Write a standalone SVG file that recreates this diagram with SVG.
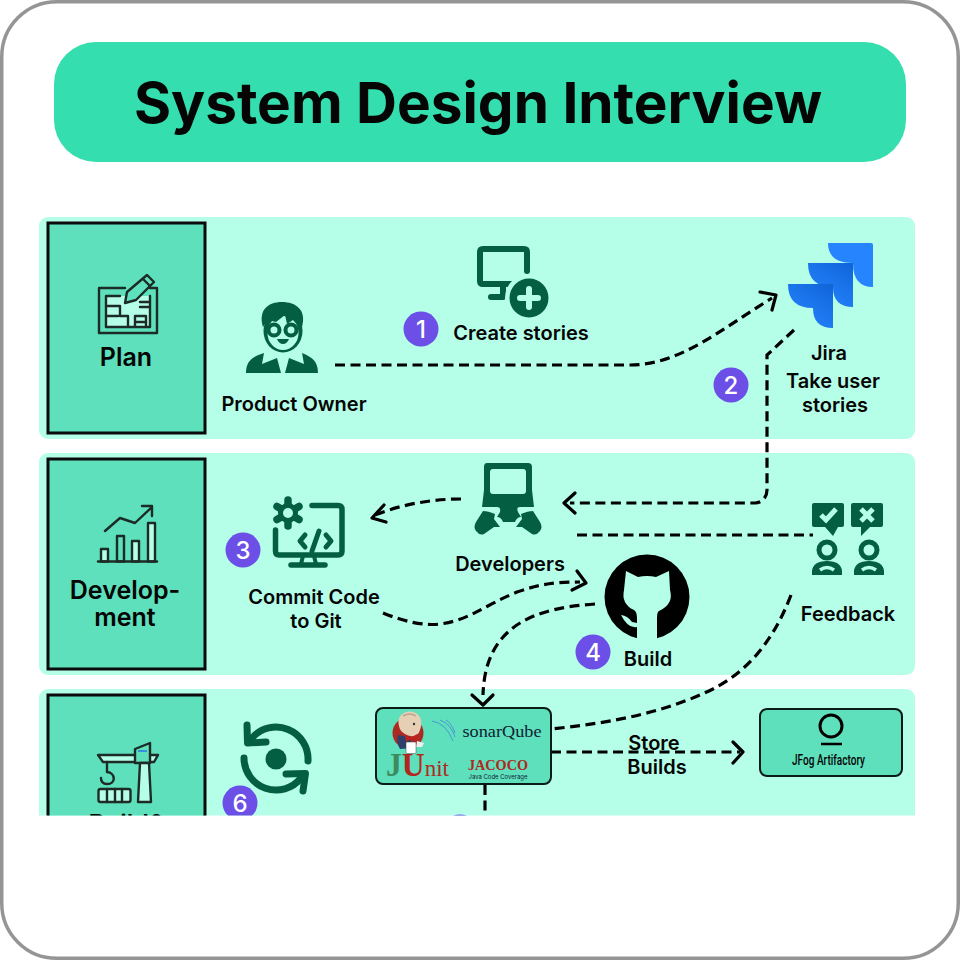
<svg xmlns="http://www.w3.org/2000/svg" width="960" height="960" viewBox="0 0 960 960">
<defs>
<style>
text{font-family:"Inter","Liberation Sans",sans-serif;font-weight:600;fill:#050505;text-anchor:middle}
.lbl{font-size:20px}
.phase{font-size:25px}
.band{fill:#b5fee8}
.side{fill:#5de0bb;stroke:#0a0a0a;stroke-width:3}
.box{fill:#5de0bb;stroke:#0a1a14;stroke-width:2}
.g{fill:#045f42}
.gl{fill:none;stroke:#045f42;stroke-linecap:round;stroke-linejoin:round}
.k{fill:none;stroke:#1c2b26;stroke-width:2.4;stroke-linejoin:round;stroke-linecap:round}
.kl{fill:#b5fee8;stroke:#1c2b26;stroke-width:2.4;stroke-linejoin:round}
.kd{fill:#5de0bb;stroke:#1c2b26;stroke-width:2.4;stroke-linejoin:round}
.lt{fill:#b5fee8}
.badge{fill:#6c4fe6}
.num{fill:#fff;font-size:24px;font-weight:500}
.con{fill:none;stroke:#000;stroke-width:3.2;stroke-dasharray:10 5.5}
.head{fill:none;stroke:#000;stroke-width:3.2;stroke-linecap:round;stroke-linejoin:round}
.serif{font-family:"Liberation Serif",serif}
</style>
<linearGradient id="jb" x1="1" y1="0" x2="0.3" y2="1"><stop offset="0" stop-color="#0f65d8"/><stop offset="1" stop-color="#2684ff"/></linearGradient>
<clipPath id="page"><rect x="0" y="0" width="960" height="815.500"/></clipPath>
</defs>
<rect x="0" y="0" width="960" height="960" fill="#fff"/>

<g clip-path="url(#page)">
<rect x="39" y="217" width="876" height="222" rx="9" class="band"/>
<rect x="39" y="453" width="876" height="222" rx="9" class="band"/>
<rect x="39" y="689" width="876" height="180" rx="9" class="band"/>

<g id="plan"><rect x="48" y="223" width="157" height="210" class="side"/>
<path d="M125 288H99V333H157V288H150" class="k"/>
<path class="lt" d="M128 296H150V327H106V296Z"/>
<path d="M120 296H106V327H150V296M106 306H120V316H128V327M106 316H118M135 327V316H146V327M135 322H146M140 302H150M140 307H150" class="k" stroke-width="2"/>
<path d="M125 303L127 292L147 275L154 282L136 300Z" class="kd"/><path d="M143 279L150 286" class="k" stroke-width="1.800"/>
<text x="126" y="366" class="phase">Plan</text></g>

<g id="development"><rect x="48" y="459" width="157" height="210" class="side"/>
<path d="M105 531L120 518L135 523L152 507M142 506H152V516" class="k"/>
<rect x="101" y="549" width="7" height="12.500" class="kl"/><rect x="117" y="536" width="7" height="25.500" class="kd"/><rect x="132" y="541" width="7" height="20.500" class="kl"/><rect x="148" y="523" width="7" height="38.500" class="kl"/>
<path d="M98 561.500H157" class="k"/>
<text class="phase"><tspan x="125" y="599">Develop-</tspan><tspan x="125" y="626">ment</tspan></text></g>

<g id="build"><rect x="48" y="695" width="157" height="210" class="side"/>
<path d="M98 755H158L154 762H103Z" class="kl"/>
<path d="M107 762V772M107 772C116 773 116 784 107 784C103 784 101 782 101 778" class="k"/>
<path d="M135 749L150 743V763H135Z" class="kd"/><path d="M138 750H147V752H138Z" fill="#3b8fe0"/>
<path d="M140 763H149L151 802H138Z" class="kl"/>
<rect x="98.500" y="789" width="32" height="13" rx="2" class="kl"/><path d="M107 789V802M115 789V802M122 789V802" class="k" stroke-width="2"/>
<text x="127" y="833" class="phase">Build&amp;</text></g>

<g id="connectors">
<path class="con" d="M335 365H630C680 365 720 330 772 298"/><path class="head" d="M760 292L776 295L772 310"/>
<path class="con" d="M794 330L767 355V490C767 497 762 503 755 503H570"/><path class="head" d="M575 493L564 503L575 513"/>
<path class="con" d="M461 499C430 499 400 505 375 515"/><path class="head" d="M384 505L372 518L386 522"/>
<path class="con" d="M577 535H813"/>
<path class="con" d="M383 613C405 622 425 626 440 624C470 620 485 605 517 592C540 584 555 582 580 582"/><path class="head" d="M577 571L586 583L572 590"/>
<path class="con" d="M595 604C535 608 485 625 483 695"/><path class="head" d="M472 695L483 705L493 695"/>
<path class="con" d="M791 595C770 650 740 675 713 689C660 715 600 724 551 729"/>
<path class="con" d="M551 752H740"/><path class="head" d="M733 742L743 752L733 763"/>
<path class="con" d="M485 785V880"/>
</g>

<g id="product-owner">
<ellipse cx="283" cy="331" rx="19.500" ry="21.500" class="g"/><ellipse cx="283" cy="333" rx="15.500" ry="17" class="lt"/>
<path class="g" d="M263 327C258 310 268 302 282 302C296 302 307 310 302 327L298 321L293 320L287 324L285 315L276 322L268 320Z"/>
<circle cx="274" cy="330" r="5.500" class="lt" stroke="#045f42" stroke-width="4"/><circle cx="291" cy="330" r="5.500" class="lt" stroke="#045f42" stroke-width="4"/>
<path class="g" d="M277 339H289Q287 344 283 344Q279 344 277 339Z"/>
<path class="g" d="M246 373C246 361 252 357 264 353L262 364L277 358L281 373ZM285 373L289 358L304 364L302 353C312 357 318 361 318 373Z"/>
<text x="294" y="411" class="lbl">Product Owner</text></g>

<g id="create-stories">
<path class="gl" d="M527 271V252Q527 249 524 249H483Q480 249 480 252V281Q480 284 483 284H512" stroke-width="6"/>
<path class="gl" d="M491 297H503V286" stroke-width="6"/>
<circle cx="529" cy="298" r="24" class="lt"/>
<circle cx="529" cy="298" r="19.500" class="g"/><path d="M529 289V307M520 298H538" stroke="#b5fee8" stroke-width="6" stroke-linecap="round"/>
<text x="521" y="340" class="lbl">Create stories</text></g>

<g id="jira">
<path fill="#2684ff" d="M828 243H871Q873 243 873 245V287Q853 287 853 263Q828 263 828 243Z"/>
<path fill="url(#jb)" d="M808 263H853V307Q833 307 833 287Q808 287 808 263Z"/>
<path fill="url(#jb)" d="M788 284H833V328Q813 328 813 308Q788 308 788 284Z"/>
<text x="829" y="360" class="lbl">Jira</text><text x="833" y="388" class="lbl">Take user</text><text x="835" y="412" class="lbl">stories</text></g>

<g id="commit-code">
<circle cx="288" cy="513" r="10" class="g"/>
<path class="gl" d="M288 513V500M288 513V526M288 513L277 506.500M288 513L299 506.500M288 513L277 519.500M288 513L299 519.500" stroke-width="7.500"/>
<circle cx="288" cy="513" r="5" class="lt"/>
<path class="gl" d="M312 505.500H338Q342 505.500 342 509.500V551Q342 555 338 555H279Q275.500 555 275.500 551V530" stroke-width="5.500"/>
<path class="gl" d="M305 535L300 541L305 547M326 535L331 541L326 547M319 531L312 551" stroke-width="5"/>
<path class="gl" d="M291 565H325" stroke-width="5.500"/><path class="gl" d="M303 556L301 564M314 556L316 564" stroke-width="4"/>
<text x="314" y="604" class="lbl">Commit Code</text><text x="316" y="628" class="lbl">to Git</text></g>

<g id="developers">
<path class="g" d="M487 463H528Q532 463 532 467V490L534 507H520Q516 507 518 512L521 517Q517 517 515 522H503Q501 517 497 517L500 512Q501 507 497 507H482L484 490V467Q484 463 487 463Z"/>
<rect x="490" y="469" width="36" height="25" rx="3" class="lt"/>
<path class="g" d="M483 511Q488 511 495 514L494 519L500 527L494 527L484 534Q480 536 476 531Q473 527 476 522Z"/>
<path class="g" d="M533 511Q528 511 521 514L522 519L516 527L522 527L532 534Q536 536 540 531Q543 527 540 522Z"/>
<text x="510" y="571" class="lbl">Developers</text></g>

<g id="github">
<circle cx="647" cy="597" r="42.500" fill="#000"/>
<path class="lt" d="M626 571L638 577Q647 575 656 577L669 571L670 590Q674 604 659 611Q657 612 657 618V640H637V627Q628 629 621 615Q628 616 632 622L637 623V618Q637 612 634 610Q621 604 624 590Z"/>
<text x="648" y="666" class="lbl">Build</text></g>

<g id="feedback">
<path class="g" d="M814 503H842Q844 503 844 505V525Q844 527 842 527H838L833 536L825 527H814Q812 527 812 525V505Q812 503 814 503Z"/>
<path class="g" d="M853 503H881Q883 503 883 505V525Q883 527 881 527H870L861 536V527H853Q851 527 851 525V505Q851 503 853 503Z"/>
<path d="M821 515L826 520L836 509" fill="none" stroke="#b5fee8" stroke-width="5"/><path d="M861 509L873 521M873 509L861 521" fill="none" stroke="#b5fee8" stroke-width="5"/>
<circle cx="827" cy="550" r="8" fill="none" stroke="#045f42" stroke-width="5"/><circle cx="869" cy="550" r="8" fill="none" stroke="#045f42" stroke-width="5"/>
<path class="g" d="M812 575V571Q813 561 827 561Q841 561 842 571V575ZM854 575V571Q855 561 869 561Q883 561 884 571V575Z"/>
<path d="M820 570Q827 565 834 570M862 570Q869 565 876 570" fill="none" stroke="#b5fee8" stroke-width="3.500"/>
<text x="848" y="621" class="lbl">Feedback</text></g>

<g id="loop">
<path class="gl" d="M308 761A32 32 0 0 0 252 738" stroke-width="7"/><path class="gl" d="M247 725L247.500 743L266 742" stroke-width="7"/>
<path class="gl" d="M244 758A32 32 0 0 0 301 778" stroke-width="7"/><path class="gl" d="M286 774L305.500 773.500L303 791" stroke-width="7"/>
<circle cx="276" cy="759" r="10.500" class="g"/></g>

<g id="toolbox">
<rect x="376" y="708" width="175" height="76" rx="7" class="box"/>
<circle cx="408" cy="733" r="15.500" fill="#ab2a22"/>
<path d="M399 726C396 716 405 710 413 712C421 714 423 722 420 730C418 737 411 737 407 735C403 733 400 731 399 726Z" fill="#e6cfb4"/><circle cx="414" cy="724" r="1.200" fill="#333"/><path d="M403 716Q410 712 416 716" fill="none" stroke="#b9a690" stroke-width="1.500"/>
<path d="M398 735L410 737L412 748L400 749Q396 742 398 735Z" fill="#2f3f6c"/>
<path d="M405 735L411 738L417 734L416 741L411 739L406 742Z" fill="#c3211c"/>
<path d="M417 741L424 743L422 747L416 747Z" fill="#eee"/>
<rect x="406" y="742" width="10" height="11.500" rx="1" fill="#fff" stroke="#444" stroke-width=".5"/>
<path d="M432 721Q446 723 453 741M440 720Q451 724 455 737M446 720Q452 724 455 733" fill="none" stroke="#4a8fd6" stroke-width=".9"/>
<text x="502" y="737" class="serif" style="font-size:17px;font-weight:400;fill:#123" textLength="79" lengthAdjust="spacingAndGlyphs">sonarQube</text>
<text x="386" y="776" class="serif" style="font-size:33px;font-weight:700;fill:#b3261e;text-anchor:start" textLength="63" lengthAdjust="spacingAndGlyphs"><tspan style="fill:#3e8a5e">J</tspan>U<tspan style="font-size:24px;font-weight:400">nit</tspan></text>
<text x="498" y="770" class="serif" style="font-size:14px;font-weight:700;fill:#b3261e" textLength="60" lengthAdjust="spacingAndGlyphs">JACOCO</text>
<text x="498" y="779" style="font-size:6px;font-weight:400;fill:#123" textLength="59" lengthAdjust="spacingAndGlyphs">Java Code Coverage</text></g>

<g id="store-builds"><text x="654" y="750" class="lbl">Store</text><text x="657" y="774" class="lbl">Builds</text></g>

<g id="jfog">
<rect x="760" y="709" width="142" height="67" rx="7" class="box"/>
<circle cx="831" cy="726" r="11" fill="none" stroke="#000" stroke-width="3"/><path d="M821 744H842" stroke="#000" stroke-width="2.500"/>
<text x="828.500" y="765" style="font-size:14px;font-family:'Roboto','Liberation Sans',sans-serif;font-weight:500" textLength="73" lengthAdjust="spacingAndGlyphs">JFog Artifactory</text></g>

<g id="badges">
<circle cx="421" cy="329" r="17.500" class="badge"/><text x="421" y="338" class="num">1</text>
<circle cx="731" cy="385" r="17.500" class="badge"/><text x="731" y="394" class="num">2</text>
<circle cx="243" cy="550" r="17.500" class="badge"/><text x="243" y="559" class="num">3</text>
<circle cx="593" cy="652" r="17.500" class="badge"/><text x="593" y="661" class="num">4</text>
<circle cx="460" cy="832" r="17.500" class="badge"/>
<circle cx="240" cy="803" r="17.500" class="badge"/><text x="240" y="812" class="num">6</text>
</g>
</g>

<g id="title"><rect x="54" y="42" width="852" height="120" rx="42" fill="#34deae"/><text x="478" y="123" style="font-size:56.700px;font-weight:700">System Design Interview</text></g>
<rect x="1.750" y="1.750" width="956.500" height="956.500" rx="55" fill="none" stroke="#959595" stroke-width="3.500"/>
</svg>
